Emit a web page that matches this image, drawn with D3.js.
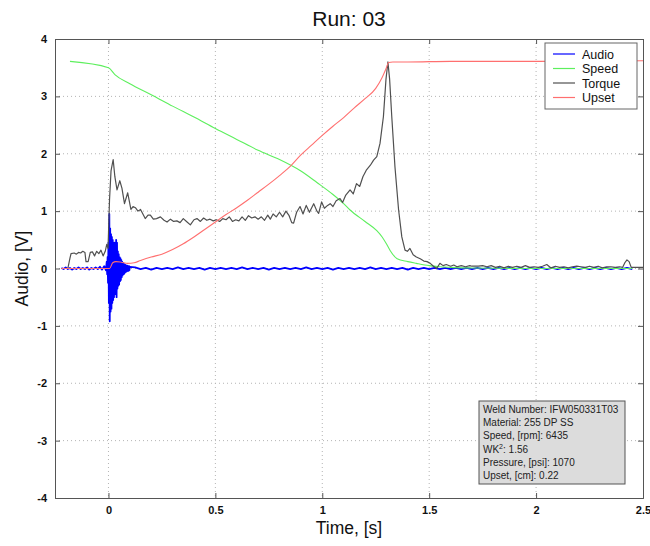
<!DOCTYPE html>
<html>
<head>
<meta charset="utf-8">
<style>
  body { margin: 0; background: #fff; }
  text { font-family: "Liberation Sans", Arial, sans-serif; }
  .grid line { stroke: #b4b4b4; stroke-dasharray: 1,3; }
</style>
</head>
<body>
<svg id="chart" width="650" height="546"></svg>
<script src="https://cdn.jsdelivr.net/npm/d3@7"></script>
<script>
// tick labels
let xTicks = [0, 0.5, 1, 1.5, 2, 2.5]
let yTicks = [-4, -3, -2, -1, 0, 1, 2, 3, 4]
let seriesNames = ["Audio", "Speed", "Torque", "Upset"]
let seriesColors = ["#0000ff", "#5def5d", "#505050", "#ff6f6f"]

// Audio, [V]
let audioT = [-0.22,-0.21,-0.2,-0.19,-0.18,-0.17,-0.16,-0.15,-0.14,-0.13,-0.12,-0.11,-0.1,-0.09,-0.08,-0.07,-0.06,-0.05,-0.04,-0.03,-0.02,-0.012,
  -0.008,-0.006,-0.004,-0.002,0,0.002,0.004,0.006,0.008,0.01,0.012,0.014,0.016,0.018,0.02,0.022,0.024,0.026,0.028,0.03,0.032,0.034,0.036,0.038,
  0.04,0.042,0.044,0.046,0.048,0.05,0.052,0.054,0.056,0.058,0.06,0.062,0.064,0.066,0.068,0.07,0.072,0.074,0.076,0.078,0.08,0.082,0.084,0.086,
  0.088,0.09,0.092,0.094,0.096,0.098,0.1,
  0.125,0.15,0.175,0.2,0.225,0.25,0.275,0.3,0.325,0.35,0.375,0.4,0.425,0.45,0.475,0.5,0.525,0.55,0.575,0.6,0.625,0.65,0.675,0.7,0.725,0.75,
  0.775,0.8,0.825,0.85,0.875,0.9,0.925,0.95,0.975,1,1.025,1.05,1.075,1.1,1.125,1.15,1.175,1.2,1.225,1.25,1.275,1.3,1.325,1.35,1.375,1.4,
  1.425,1.45,1.475,1.5,1.525,1.55,1.575,1.6,1.625,1.65,1.675,1.7,1.725,1.75,1.775,1.8,1.825,1.85,1.875,1.9,1.925,1.95,1.975,2,2.025,2.05,
  2.075,2.1,2.125,2.15,2.175,2.2,2.225,2.25,2.275,2.3,2.325,2.35,2.375,2.4,2.425,2.45]
let audioV = [0.01,-0.01,0.02,-0.01,0.01,-0.02,0.01,-0.01,0.02,-0.01,0.01,-0.01,0.02,-0.02,0.01,-0.01,0.02,-0.01,0.03,-0.02,0.04,-0.03,
  0.12,-0.1,0.2,-0.25,0.45,-0.6,0.95,-0.92,0.7,-0.75,0.6,-0.7,0.55,-0.6,0.5,-0.55,0.4,-0.5,0.45,-0.45,0.35,-0.4,0.5,-0.5,
  0.45,-0.35,0.3,-0.3,0.25,-0.28,0.2,-0.22,0.18,-0.2,0.15,-0.15,0.12,-0.12,0.1,-0.1,0.08,-0.09,0.07,-0.07,0.06,-0.06,0.05,-0.05,
  0.05,-0.04,0.04,-0.04,0.04,-0.03,0.03,
  0.02,-0.01,0.01,-0.02,0.01,-0.01,0.01,-0.01,0.02,-0.01,
  0.01,-0.01,0.01,-0.02,0.01,-0.01,0.01,-0.01,0.01,-0.01,
  0.02,-0.01,0.01,-0.01,0.01,-0.02,0.01,-0.01,0.01,-0.01,
  0.01,-0.01,0.02,-0.01,0.01,-0.01,0.01,-0.02,0.01,-0.01,
  0.01,-0.01,0.01,-0.01,0.02,-0.01,0.01,-0.01,0.01,-0.01,
  0.01,-0.02,0.01,-0.01,0.01,-0.01,0.01,-0.01,0.01,-0.01,
  0.01,-0.01,0.01,-0.01,0.01,-0.01,0.01,-0.01,0.01,-0.01,
  0.01,-0.01,0.01,-0.01,0.01,-0.01,0.01,-0.01,0.01,-0.01,
  0.01,-0.01,0.01,-0.01,0.01,-0.01,0.01,-0.01,0.01,-0.01,
  0.01,-0.01,0.01,-0.01]

// Speed
let speedT = [-0.18,0,0.03,0.1,0.2,0.3,0.4,0.5,0.6,0.7,0.8,0.9,0.975,1.05,1.1,1.13,1.2,1.255,1.28,1.3,1.318,1.35,1.4,1.44,1.5,1.55,1.6,1.7,1.8,2,2.45]
let speedV = [3.61,3.5,3.38,3.22,3.03,2.83,2.64,2.44,2.25,2.06,1.9,1.7,1.5,1.29,1.13,1.02,0.82,0.66,0.55,0.43,0.31,0.17,0.12,0.09,0.05,0.03,0.02,0.01,0.005,0,0]

// Torque
let torqueT = [-0.22,-0.19,-0.18,-0.175,-0.16,-0.15,-0.14,-0.13,-0.12,-0.11,-0.105,-0.095,-0.085,-0.075,-0.065,-0.055,-0.045,-0.035,-0.025,-0.015,-0.008,-0.002,
  0.005,0.012,0.022,0.03,0.04,0.053,0.063,0.075,0.09,0.105,0.115,0.126,0.138,0.15,0.172,0.185,0.196,0.21,0.225,0.243,0.26,0.274,0.29,0.305,0.32,0.335,
  0.35,0.365,0.383,0.4,0.414,0.43,0.445,0.46,0.475,0.49,0.505,0.52,0.535,0.55,0.565,0.58,0.595,0.61,0.625,0.64,0.655,0.67,0.685,0.7,0.715,0.73,
  0.745,0.757,0.77,0.785,0.8,0.815,0.83,0.845,0.857,0.866,0.88,0.896,0.91,0.925,0.94,0.96,0.975,0.983,0.997,1.01,1.025,1.037,1.05,1.065,1.083,
  1.095,1.11,1.13,1.145,1.16,1.175,1.19,1.207,1.225,1.24,1.255,1.27,1.286,1.298,1.307,1.315,1.325,1.34,1.357,1.372,1.387,1.398,1.41,1.425,1.44,
  1.458,1.475,1.49,1.505,1.52,1.535,1.55,1.565,1.58,1.6,1.615,1.63,1.65,1.67,1.69,1.7,1.73,1.75,1.77,1.79,1.81,1.83,1.85,1.87,1.89,1.91,1.93,
  1.95,1.97,1.99,2.01,2.03,2.05,2.07,2.09,2.11,2.13,2.15,2.17,2.19,2.21,2.23,2.25,2.27,2.29,2.31,2.33,2.35,2.37,2.39,2.405,2.415,2.425,2.435,
  2.445,2.46,2.48,2.5]
let torqueV = [0,0,0.18,0.26,0.27,0.25,0.28,0.27,0.3,0.28,0.12,0.12,0.28,0.29,0.22,0.3,0.26,0.32,0.22,0.3,0.42,0.35,
  1.2,1.7,1.9,1.6,1.37,1.53,1.4,1.13,1.32,1.03,1.08,1.06,1.0,1.03,0.87,0.93,0.93,0.86,0.87,0.9,0.84,0.81,0.86,0.82,0.83,0.8,
  0.87,0.82,0.76,0.85,0.87,0.82,0.88,0.84,0.86,0.83,0.85,0.82,0.87,0.85,0.9,0.82,0.85,0.83,0.9,0.84,0.92,0.88,0.9,0.86,0.9,0.84,
  0.93,0.86,0.95,0.9,0.98,0.9,1.0,0.92,0.8,0.79,0.98,1.08,0.95,1.1,0.98,1.13,1.0,0.96,1.16,1.05,1.1,1.13,1.08,1.18,1.22,
  1.15,1.28,1.37,1.3,1.48,1.43,1.6,1.72,1.8,1.89,1.95,2.18,2.65,3.3,3.6,3.3,2.65,1.77,1.02,0.55,0.32,0.3,0.35,0.24,0.2,
  0.17,0.13,0.12,0.09,0.04,0.0,0.09,0.05,0.07,0.04,0.06,0.03,0.05,0.03,0.05,0.04,0.04,0.05,0.03,0.05,0.02,0.04,0.01,0.04,0.02,0.04,0.02,
  0.05,0.02,0.03,0.02,0.04,0.07,0.01,0.04,0.02,0.03,0.01,0.03,0.04,0.03,0.02,0.04,0.02,0.04,0.01,0.03,0.03,0.02,0.03,0.02,0.1,0.15,0.12,
  0.02,0.02,0.02,0.02]

// Upset
let upsetT = [-0.22,0.005,0.02,0.035,0.06,0.09,0.12,0.15,0.2,0.25,0.3,0.35,0.4,0.45,0.5,0.55,0.6,0.65,0.7,0.75,0.8,0.85,0.9,0.95,1.0,1.05,1.1,1.15,1.2,1.25,1.28,1.3,1.31,1.33,1.4,1.6,2.0,2.5]
let upsetV = [0,0,0.1,0.12,0.11,0.09,0.1,0.14,0.2,0.25,0.33,0.43,0.55,0.68,0.81,0.94,1.06,1.19,1.33,1.47,1.62,1.78,1.98,2.15,2.32,2.48,2.63,2.8,2.96,3.14,3.33,3.5,3.59,3.6,3.6,3.61,3.61,3.62]

// info box lines
let infoLines = ["Weld Number:  IFW050331T03", "Material:  255 DP SS", "Speed, [rpm]: 6435", "WK|2|: 1.56", "Pressure, [psi]: 1070", "Upset, [cm]: 0.22"]

let svg = d3.select("#chart")
let pLeft = 55, pRight = 643, pTop = 39, pBottom = 498

let x = d3.scaleLinear().domain([-0.25, 2.5]).range([pLeft, pRight])
let y = d3.scaleLinear().domain([-4, 4]).range([pBottom, pTop])

// grid
let grid = svg.append("g").attr("class", "grid")
grid.selectAll(".gx").data(xTicks.filter(d => d < 2.5)).enter().append("line")
  .attr("x1", d => x(d)).attr("x2", d => x(d)).attr("y1", pTop).attr("y2", pBottom)
grid.selectAll(".gy").data(yTicks.filter(d => d > -4 && d < 4)).enter().append("line")
  .attr("x1", pLeft).attr("x2", pRight).attr("y1", d => y(d)).attr("y2", d => y(d))

// lines
let series = [
  {t: audioT, v: audioV, w: 1.8, curve: d3.curveLinear},
  {t: speedT, v: speedV, w: 1.1, curve: d3.curveMonotoneX},
  {t: torqueT, v: torqueV, w: 1.2, curve: d3.curveLinear},
  {t: upsetT, v: upsetV, w: 1.1, curve: d3.curveMonotoneX}
]
series.forEach((s, i) => {
  let line = d3.line().x(d => x(d[0])).y(d => y(d[1])).curve(s.curve)
  svg.append("path")
    .datum(s.t.map((t, j) => [t, s.v[j]]))
    .attr("d", line)
    .attr("fill", "none")
    .attr("stroke", seriesColors[i])
    .attr("stroke-width", s.w)
    .attr("stroke-linejoin", "round")
})

// axes (inward ticks, box)
let axisColor = "#555"
let xb = svg.append("g").attr("transform", `translate(0,${pBottom})`)
  .call(d3.axisBottom(x).tickValues(xTicks).tickSize(-5).tickPadding(8).tickFormat(d3.format("")))
let xt = svg.append("g").attr("transform", `translate(0,${pTop})`)
  .call(d3.axisTop(x).tickValues(xTicks).tickSize(-5).tickFormat(""))
let yl = svg.append("g").attr("transform", `translate(${pLeft},0)`)
  .call(d3.axisLeft(y).tickValues(yTicks).tickSize(-5).tickPadding(8).tickFormat(d3.format("")))
let yr = svg.append("g").attr("transform", `translate(${pRight},0)`)
  .call(d3.axisRight(y).tickValues(yTicks).tickSize(-5).tickFormat(""))
;[xb, xt, yl, yr].forEach(g => {
  g.select(".domain").attr("stroke", axisColor)
  g.selectAll(".tick line").attr("stroke", axisColor)
  g.selectAll(".tick text").attr("fill", "#111").attr("font-size", 11).attr("font-weight", "bold")
    .attr("font-family", "Liberation Sans, Arial, sans-serif")
})
yl.selectAll(".tick text").text(d => d < 0 ? "-" + Math.abs(d) : d)

// titles
svg.append("text").attr("x", (pLeft + pRight) / 2).attr("y", 26)
  .attr("text-anchor", "middle").attr("font-size", 21).attr("fill", "#111").text("Run: 03")
svg.append("text").attr("x", (pLeft + pRight) / 2).attr("y", 534)
  .attr("text-anchor", "middle").attr("font-size", 17.5).attr("fill", "#111").text("Time, [s]")
svg.append("text").attr("transform", `translate(28,${(pTop + pBottom) / 2}) rotate(-90)`)
  .attr("text-anchor", "middle").attr("font-size", 17.5).attr("fill", "#111").text("Audio, [V]")

// legend
let lg = svg.append("g").attr("transform", "translate(545,43)")
lg.append("rect").attr("width", 92).attr("height", 66).attr("fill", "#fff").attr("stroke", "#666")
seriesNames.forEach((n, i) => {
  let yy = 11 + i * 14.5
  lg.append("line").attr("x1", 8).attr("x2", 30).attr("y1", yy).attr("y2", yy)
    .attr("stroke", seriesColors[i]).attr("stroke-width", 1.2)
  lg.append("text").attr("x", 37).attr("y", yy + 4.5).attr("font-size", 12.5).attr("fill", "#111").text(n)
})

// info box
let ib = svg.append("g").attr("transform", "translate(479,401)")
ib.append("rect").attr("width", 146).attr("height", 83).attr("fill", "#dcdcdc").attr("stroke", "#555")
infoLines.forEach((s, i) => {
  let parts = s.split("|")
  let t = ib.append("text").attr("x", 4).attr("y", 12 + i * 13.2).attr("font-size", 10).attr("fill", "#222")
  t.append("tspan").text(parts[0])
  if (parts.length > 1) {
    t.append("tspan").attr("dy", -4).attr("font-size", 7).text(parts[1])
    t.append("tspan").attr("dy", 4).text(parts[2])
  }
})
</script>
</body>
</html>
